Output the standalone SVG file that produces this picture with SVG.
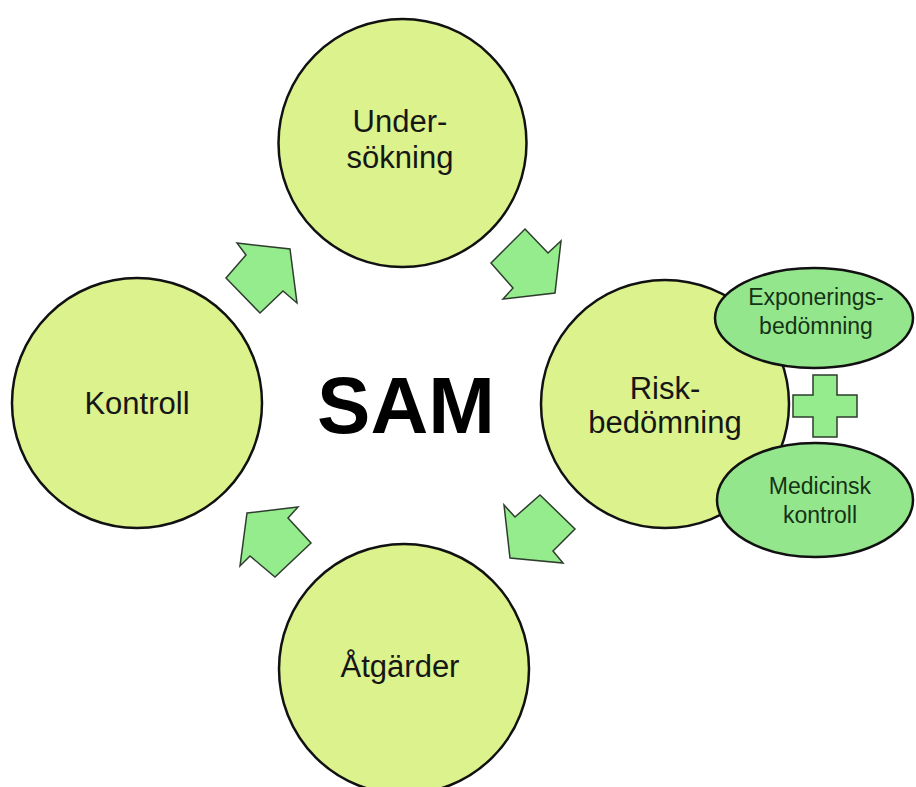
<svg xmlns="http://www.w3.org/2000/svg" width="916" height="787" viewBox="0 0 916 787">
<style>
.c{fill:#dbf28d;stroke:#111;stroke-width:2.5}
.e{fill:#94e68c;stroke:#111;stroke-width:2.5}
.a{fill:#94ec8c;stroke:#2e3d2e;stroke-width:1.5;stroke-linejoin:miter}
.t{font-family:"Liberation Sans",Arial,sans-serif;font-size:31px;fill:#161616;text-anchor:middle}
.s{font-family:"Liberation Sans",Arial,sans-serif;font-size:23px;fill:#143314;text-anchor:middle}
.b{font-family:"Liberation Sans",Arial,sans-serif;font-size:80px;font-weight:bold;fill:#000;text-anchor:middle}
</style>
<rect width="916" height="787" fill="#fff"/>
<g id="connectors">
<polygon class="a" points="525,229 548,253 561,241 555,293 503,299 513,288 491,263"/>
<polygon class="a" points="237,243 290,249 297,303 283,291 260,313 226,278 246,255"/>
<polygon class="a" points="540,495 575,529 553,551 563,563 510,558 504,505 515,517"/>
<polygon class="a" points="247,513 298,507 288,518 311,543 275,577 250,556 240,566"/>
</g>
<g id="sam"><text class="b" x="406" y="433">SAM</text></g>
<g id="undersokning">
<circle class="c" cx="402.5" cy="143" r="124"/>
<text class="t" x="400" y="132">Under-</text>
<text class="t" x="400" y="168">sökning</text>
</g>
<g id="kontroll">
<circle class="c" cx="137" cy="403" r="125"/>
<text class="t" x="137" y="414">Kontroll</text>
</g>
<g id="atgarder">
<circle class="c" cx="404" cy="669" r="125"/>
<text class="t" x="400" y="677">Åtgärder</text>
</g>
<g id="riskbedomning">
<circle class="c" cx="665" cy="404" r="124"/>
<text class="t" x="665" y="399">Risk-</text>
<text class="t" x="665" y="433">bedömning</text>
</g>
<g id="exponering">
<ellipse class="e" cx="814" cy="318" rx="99" ry="50"/>
<text class="s" x="816" y="305">Exponerings-</text>
<text class="s" x="816" y="334">bedömning</text>
</g>
<g id="plus">
<polygon class="a" points="813,375 837,375 837,395 857,395 857,417 837,417 837,437 813,437 813,417 793,417 793,395 813,395"/>
</g>
<g id="medicinsk">
<ellipse class="e" cx="815" cy="500" rx="98" ry="57"/>
<text class="s" x="820" y="494">Medicinsk</text>
<text class="s" x="820" y="523">kontroll</text>
</g>
</svg>
